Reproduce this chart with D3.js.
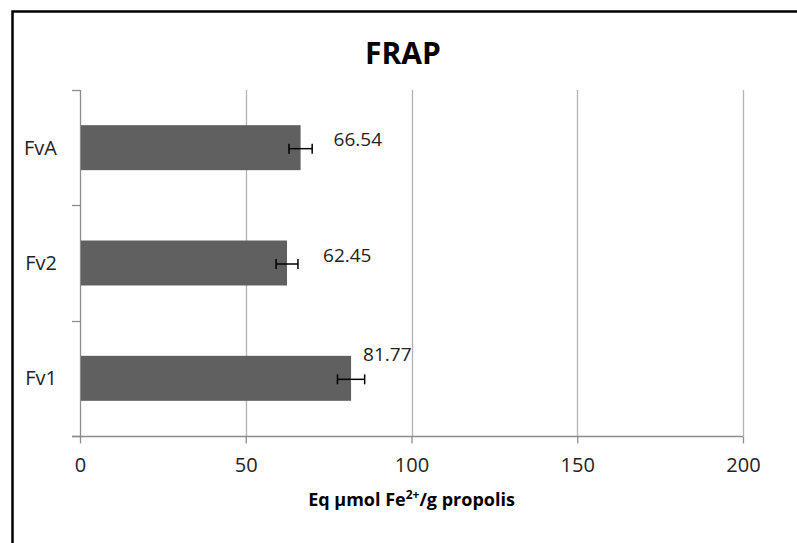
<!DOCTYPE html>
<html>
<head>
<meta charset="utf-8">
<script src="https://cdn.jsdelivr.net/npm/d3@7"></script>
<style>
  html, body { margin: 0; padding: 0; background: #fff; }
  svg { display: block; }
</style>
</head>
<body>
<svg id="chart" width="797" height="543"></svg>
<script>
// ---- data ----
const categories = ["FvA", "Fv2", "Fv1"];
const values = [66.54, 62.45, 81.77];
const errors = [3.5, 3.3, 4.1];
const valueLabels = ["66.54", "62.45", "81.77"];
const xTicks = [0, 50, 100, 150, 200];
const chartTitle = "FRAP";

// ---- layout (not data) ----
const W = 797, H = 543;
const plot = { left: 80, right: 743, top: 90, bottom: 436 };
const labelNudge = [[33, -1.5], [36, -1.5], [12, -17]];
const font = "'Open Sans', 'Noto Sans', sans-serif";

const svg = d3.select("#chart");

// outer border (right and bottom edges run off the picture)
svg.append("rect")
  .attr("x", 12.5).attr("y", 11.5)
  .attr("width", W + 20).attr("height", H + 20)
  .attr("fill", "#fff").attr("stroke", "#000").attr("stroke-width", 2.5);

const x = d3.scaleLinear().domain([0, 200]).range([plot.left, plot.right]);
const y = d3.scaleBand().domain(categories)
  .range([plot.top, plot.bottom]).paddingInner(0.61).paddingOuter(0.305);

// title
svg.append("text")
  .attr("x", 403).attr("y", 64)
  .attr("text-anchor", "middle")
  .attr("font-family", font).attr("font-weight", "bold")
  .attr("font-size", 30).attr("fill", "#000")
  .text(chartTitle);

// vertical gridlines
svg.append("g").selectAll("line")
  .data(xTicks.filter(d => d !== 0))
  .join("line")
  .attr("x1", d => Math.round(x(d)) + 0.5).attr("x2", d => Math.round(x(d)) + 0.5)
  .attr("y1", plot.top).attr("y2", plot.bottom)
  .attr("stroke", "#b3b3b3").attr("stroke-width", 1.3);

// x axis
const xAxis = svg.append("g")
  .attr("transform", `translate(0,${plot.bottom + 0.5})`)
  .call(d3.axisBottom(x).tickValues(xTicks).tickSize(7).tickPadding(14).tickSizeOuter(0));
xAxis.select(".domain").attr("stroke", "#8c8c8c").attr("stroke-width", 1.3)
  .attr("d", `M${plot.left - 8},0H${plot.right}`);
xAxis.selectAll(".tick line").attr("stroke", "#8c8c8c").attr("stroke-width", 1.3);
xAxis.selectAll(".tick text")
  .attr("font-family", font).attr("font-size", 20).attr("fill", "#222");

// y axis (category boundaries as ticks)
const yAxisG = svg.append("g");
yAxisG.append("line")
  .attr("x1", plot.left + 0.5).attr("x2", plot.left + 0.5)
  .attr("y1", plot.top).attr("y2", plot.bottom)
  .attr("stroke", "#8c8c8c").attr("stroke-width", 1.3);
const boundaries = d3.range(categories.length + 1).map(i => plot.top + i * (plot.bottom - plot.top) / categories.length);
yAxisG.selectAll("line.tk").data(boundaries).join("line").attr("class", "tk")
  .attr("x1", plot.left - 8).attr("x2", plot.left)
  .attr("y1", d => Math.round(d) + 0.5).attr("y2", d => Math.round(d) + 0.5)
  .attr("stroke", "#8c8c8c").attr("stroke-width", 1.3);
yAxisG.selectAll("text").data(categories).join("text")
  .attr("x", plot.left - 23)
  .attr("y", d => y(d) + y.bandwidth() / 2)
  .attr("dy", "0.35em")
  .attr("text-anchor", "end")
  .attr("font-family", font).attr("font-size", 20).attr("fill", "#222")
  .text(d => d);

// bars
svg.append("g").selectAll("rect")
  .data(categories)
  .join("rect")
  .attr("x", x(0) + 1)
  .attr("y", d => y(d))
  .attr("width", (d, i) => x(values[i]) - x(0) - 1)
  .attr("height", y.bandwidth())
  .attr("fill", "#606060");

// error bars
const eb = svg.append("g").attr("stroke", "#000").attr("stroke-width", 1.5);
categories.forEach((c, i) => {
  const cy = y(c) + y.bandwidth() / 2 + 1;
  const x0 = x(values[i] - errors[i]), x1 = x(values[i] + errors[i]);
  eb.append("line").attr("x1", x0).attr("x2", x1).attr("y1", cy).attr("y2", cy);
  eb.append("line").attr("x1", x0).attr("x2", x0).attr("y1", cy - 5).attr("y2", cy + 5);
  eb.append("line").attr("x1", x1).attr("x2", x1).attr("y1", cy - 5).attr("y2", cy + 5);
});

// value labels
svg.append("g").selectAll("text")
  .data(categories)
  .join("text")
  .attr("x", (d, i) => x(values[i]) + labelNudge[i][0])
  .attr("y", (d, i) => y(d) + y.bandwidth() / 2 + labelNudge[i][1])
  .attr("font-family", font).attr("font-size", 19).attr("fill", "#222")
  .text((d, i) => valueLabels[i]);

// axis title
const at = svg.append("text")
  .attr("x", x(100)).attr("y", 506)
  .attr("text-anchor", "middle")
  .attr("font-family", font).attr("font-weight", "bold")
  .attr("font-size", 18).attr("fill", "#000");
at.append("tspan").text("Eq µmol Fe");
at.append("tspan").attr("font-size", 12).attr("dy", -7).text("2+");
at.append("tspan").attr("dy", 7).text("/g propolis");
</script>
</body>
</html>
